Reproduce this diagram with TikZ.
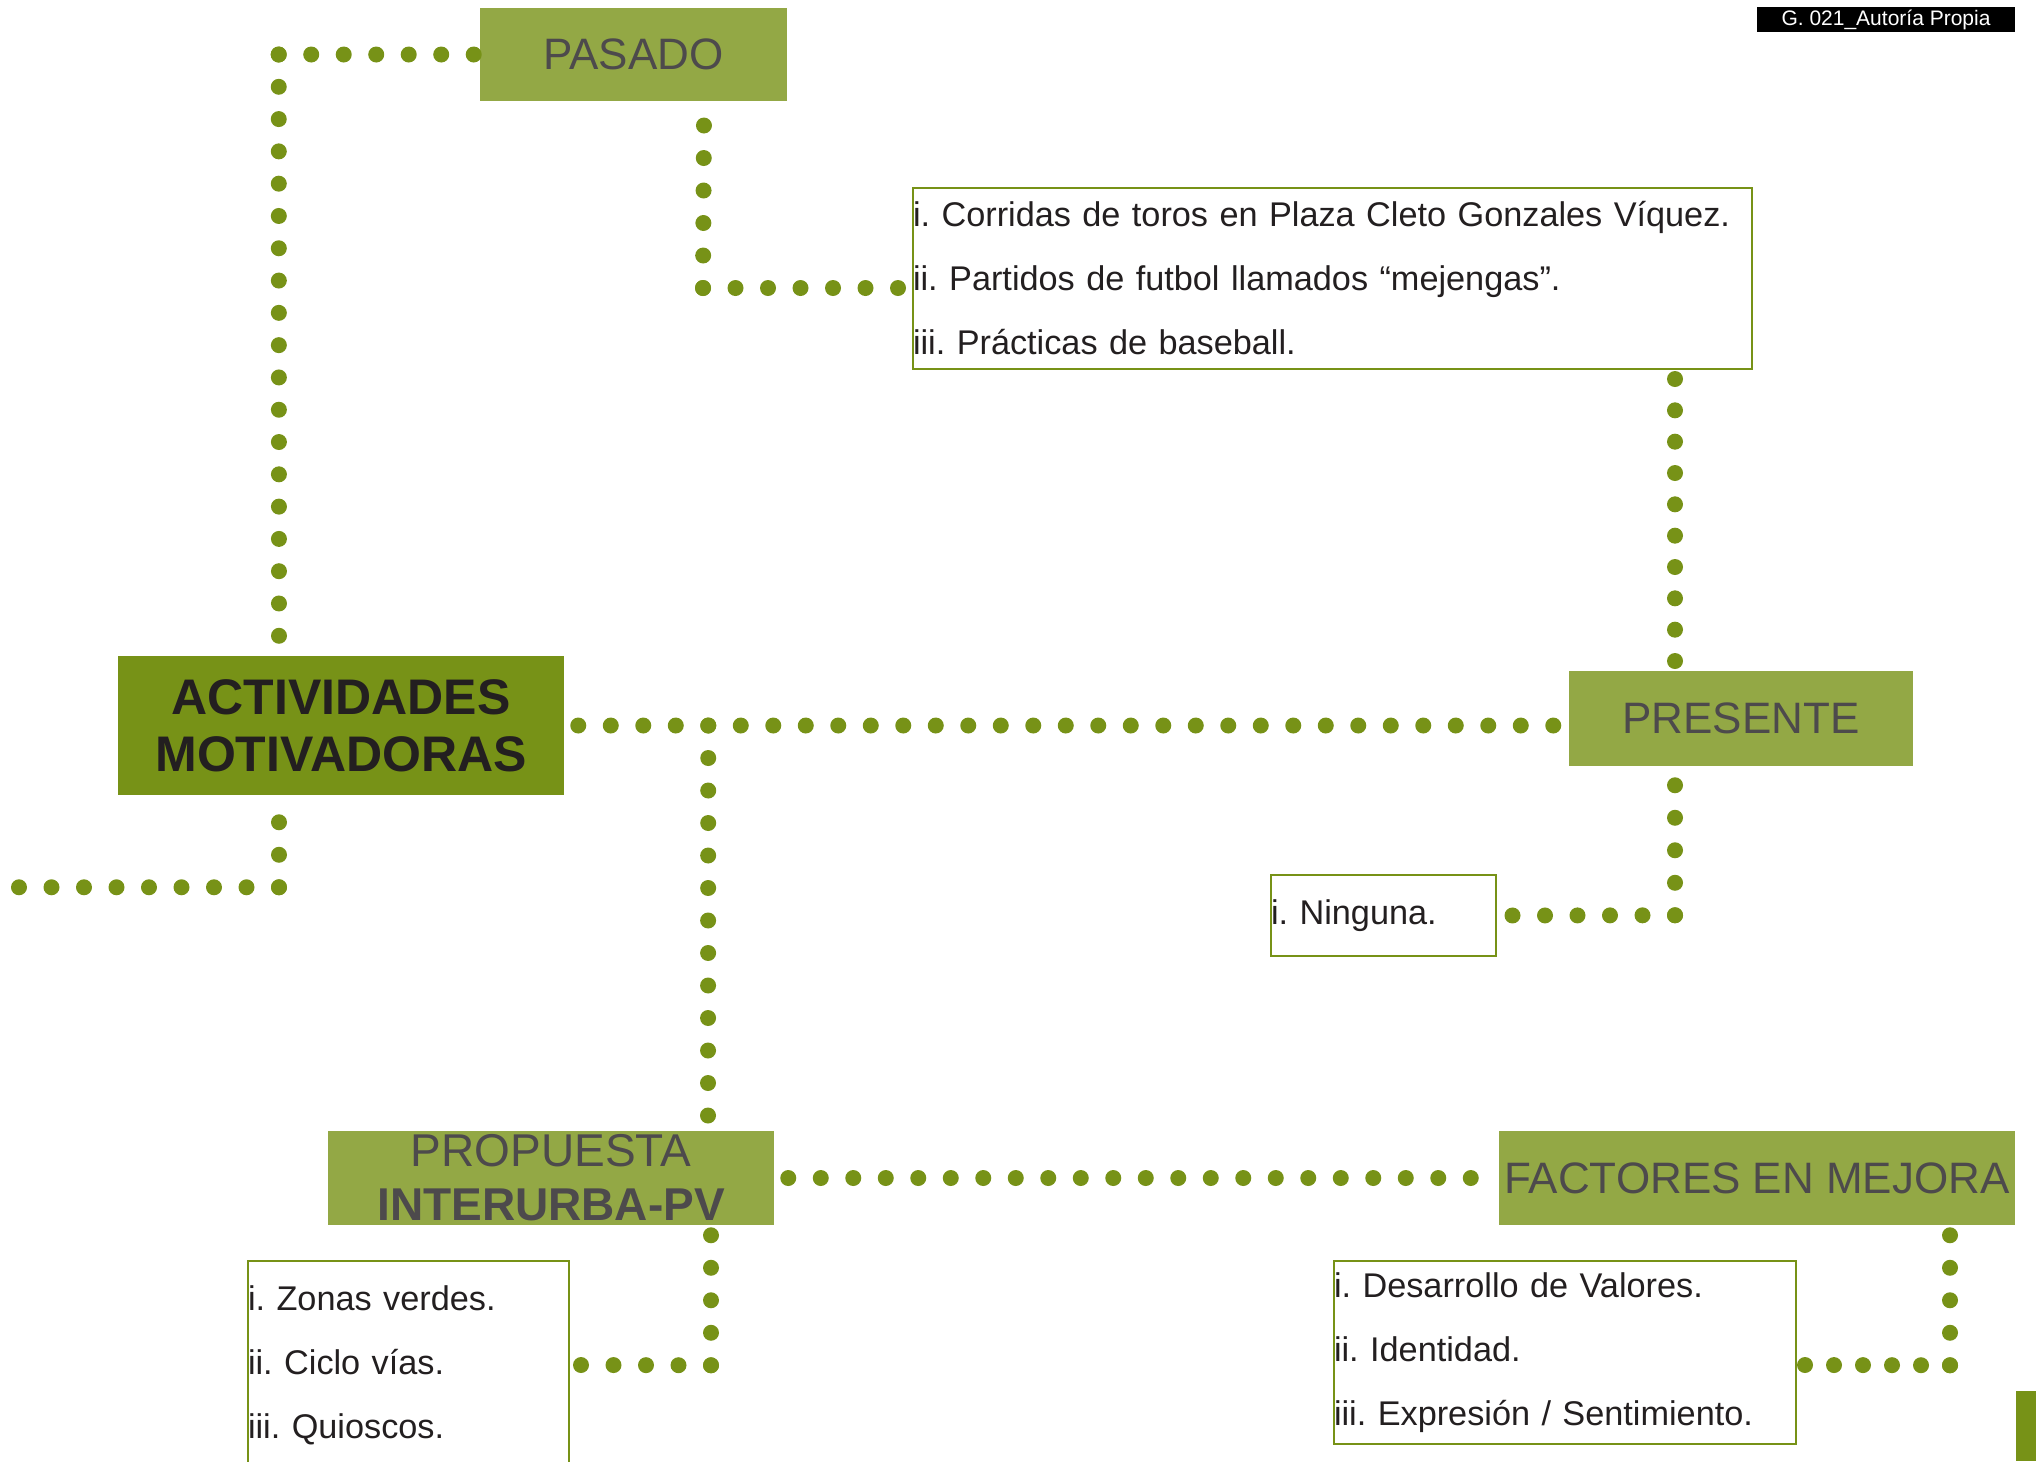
\documentclass[tikz,border=0pt]{standalone}
\usepackage{fontspec}
\setmainfont{Liberation Sans}
\usepackage{xcolor}
\usetikzlibrary{calc}

\definecolor{oliveDark}{RGB}{119,146,23}
\definecolor{oliveLight}{RGB}{147,168,69}
\definecolor{headGray}{RGB}{77,74,76}
\definecolor{listInk}{RGB}{35,31,32}
\frenchspacing

\begin{document}
\begin{tikzpicture}[x=0.75pt,y=0.75pt,yscale=-1,xscale=1,
  headbox/.style={fill=oliveLight, inner sep=0pt, text=headGray, align=center, font=\fontsize{33}{40.5}\selectfont},
  listbox/.style={draw=oliveDark, line width=1.5pt, fill=white, inner xsep=0pt, inner ysep=0pt, align=left, text=listInk, font=\fontsize{25.7}{48}\selectfont},
  dotline/.style={draw=oliveDark, line width=12pt, line cap=round, dash pattern=on 0pt off #1},
  dotline/.default=24.375pt]
%set diagram to the size of the page
\clip (0,0) rectangle (2036,1461);

% Text Node
\draw (1886,19.5) node (tag) [fill=black, text=white, inner sep=0pt, minimum width=193.5pt, minimum height=18.75pt, font=\fontsize{15.75}{18}\selectfont] {G. 021\_Autoría Propia};
%Shape: Rectangle
\fill[oliveDark] (2016,1391) rectangle (2036,1461);

% Text Node
\draw (341,725.5) node (act) [fill=oliveDark, inner sep=0pt, align=center, text=listInk, minimum width=334.5pt, minimum height=104.25pt, font=\fontsize{37.5}{42.75}\selectfont\bfseries] {ACTIVIDADES\\MOTIVADORAS};
% Text Node
\draw (633.5,54.5) node (pas) [headbox, minimum width=230.25pt, minimum height=69.75pt] {PASADO};
% Text Node
\draw (1741,718.5) node (pre) [headbox, minimum width=258pt, minimum height=71.25pt] {PRESENTE};
% Text Node
\draw (551,1178) node (pro) [headbox, minimum width=334.5pt, minimum height=70.5pt, font=\fontsize{34.5}{40.5}\selectfont] {PROPUESTA\\\textbf{INTERURBA-PV}};
% Text Node
\draw (1757,1178) node (fac) [headbox, minimum width=387pt, minimum height=70.5pt] {FACTORES EN MEJORA};

%Shape: Rectangle
\draw (1332.5,278.5) node (pasl) [listbox, text width=629.25pt, minimum height=135.75pt] {i. Corridas de toros en Plaza Cleto Gonzales Víquez.\\ii. Partidos de futbol llamados “mejengas”.\\iii. Prácticas de baseball.};
%Shape: Rectangle
\draw (1383.5,915.5) node (prel) [listbox, text width=168.75pt, minimum height=60.75pt] {i. Ninguna.};
%Shape: Rectangle
\draw (408.5,1365) node (prol) [listbox, text width=240.75pt, minimum height=156pt] {i. Zonas verdes.\\ii. Ciclo vías.\\iii. Quioscos.};
%Shape: Rectangle
\draw (1565,1352.5) node (facl) [listbox, text width=346.5pt, minimum height=137.25pt] {i. Desarrollo de Valores.\\ii. Identidad.\\iii. Expresión / Sentimiento.};

% corners of the dotted lines
\path (pas.west) ++(-201,0) coordinate (k1);
\path (pasl.west) ++(-209,9.5) coordinate (k2);
\path (act.south) ++(-62,92) coordinate (k6);
\path (pre.south) ++(-66,149) coordinate (k7);
\path (pro.south) ++(160,140) coordinate (k9);
\path (fac.south) ++(193,140) coordinate (k10);

%Straight Lines
\draw[dotline=24.22pt] (k1) -- ($(act.north)+(-62,-18)$);
\draw[dotline] (k1) -- ($(pas.west)+(-6,0)$);
%Straight Lines
\draw[dotline] (k2) -- ($(pas.south)+(70.5,16)$);
\draw[dotline] (k2) -- ($(pasl.west)+(-13,9.5)$);
%Straight Lines
\draw[dotline=23.5pt] ($(pasl.south)+(342.5,9)$) -- ($(pre.north)+(-66,-9)$);
%Straight Lines
\draw[dotline] ($(act.east)+(14,0)$) -- ($(act.east -| pre.west)+(-14,0)$);
\draw[dotline] ($(act.east)+(144,0)$) -- ($(pro.north)+(157,-14)$);
%Straight Lines
\draw[dotline] (k6) -- ($(act.south)+(-62,13)$);
\draw[dotline] (k6) -- ($(k6)+(-320,0)$);
%Straight Lines
\draw[dotline] (k7) -- ($(pre.south)+(-66,10)$);
\draw[dotline] (k7) -- ($(prel.east)+(4,0)$);
%Straight Lines
\draw[dotline] ($(pro.east)+(14,0)$) -- ($(fac.west)+(-14,0)$);
%Straight Lines
\draw[dotline] (k9) -- ($(pro.south)+(160,10)$);
\draw[dotline] (k9) -- ($(prol.east)+(6,0)$);
%Straight Lines
\draw[dotline] (k10) -- ($(fac.south)+(193,10)$);
\draw[dotline=21.75pt] (k10) -- ($(facl.east)+(8,12.5)$);

\end{tikzpicture}
\end{document}
